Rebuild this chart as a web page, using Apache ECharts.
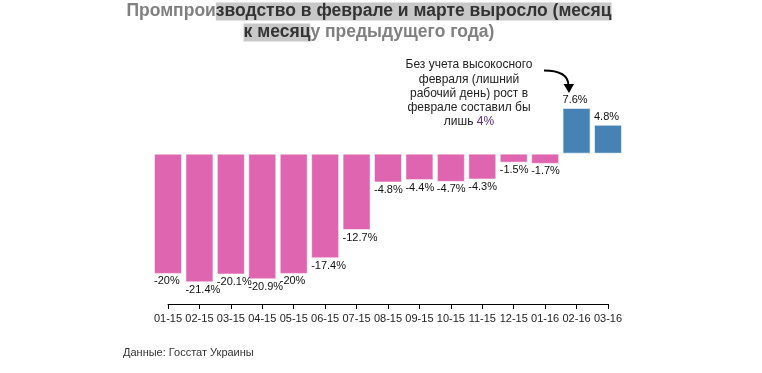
<!DOCTYPE html>
<html>
<head>
<meta charset="utf-8">
<script src="https://cdn.jsdelivr.net/npm/echarts@6/dist/echarts.min.js"></script>
<style>
html,body{margin:0;padding:0;background:#fff;}
#chart{width:762px;height:373px;}
</style>
</head>
<body>
<div id="chart"></div>
<script>
var categories = ['01-15','02-15','03-15','04-15','05-15','06-15','07-15','08-15','09-15','10-15','11-15','12-15','01-16','02-16','03-16'];
var values = [-20, -21.4, -20.1, -20.9, -20, -17.4, -12.7, -4.8, -4.4, -4.7, -4.3, -1.5, -1.7, 7.6, 4.8];
var titleLine1a = 'Промпрои';
var titleLine1b = 'зводство в феврале и марте выросло (месяц';
var titleLine2a = 'к месяц';
var titleLine2b = 'у предыдущего года)';
var noteText = 'Без учета высокосного\nфевраля (лишний\nрабочий день) рост в\nфеврале составил бы\nлишь {p|4%}';
var sourceText = 'Данные: Госстат Украины';

var FONT = '"Liberation Sans", Arial, sans-serif';
var TF = 'bold 17.5px ' + FONT;
var chart = echarts.init(document.getElementById('chart'), null, {renderer: 'canvas'});

chart.setOption({
  backgroundColor: '#fff',
  animation: false,
  grid: {left: 168, right: 154, top: 93.5, bottom: 69},
  xAxis: {
    type: 'category',
    data: categories,
    boundaryGap: false,
    axisLine: {onZero: false, lineStyle: {color: '#000', width: 1}},
    axisTick: {length: 5, lineStyle: {color: '#000'}},
    axisLabel: {fontSize: 11, color: '#222', fontFamily: FONT, margin: 9, interval: 0}
  },
  yAxis: {
    type: 'value', min: -25, max: 10, show: false,
    splitLine: {show: false}
  },
  series: [{
    type: 'bar',
    data: values,
    barWidth: 28,
    clip: false,
    itemStyle: {
      color: function (p) { return p.value >= 0 ? '#4682b4' : '#df65b0'; },
      borderColor: 'rgba(255,255,255,0.55)',
      borderWidth: 1
    },
    label: {
      show: true,
      position: 'outside',
      distance: 2,
      align: 'left',
      offset: [-14, 0],
      formatter: '{c}%',
      fontSize: 11,
      color: '#111',
      fontFamily: FONT
    }
  }],
  graphic: [
    {
      type: 'text', x: 369, y: 1,
      style: {
        text: '{g|' + titleLine1a + '}{h|' + titleLine1b + '}\n{h|' + titleLine2a + '}{g|' + titleLine2b + '}',
        align: 'center', verticalAlign: 'top',
        font: TF,
        rich: {
          g: {fill: '#808080', font: TF, lineHeight: 21},
          h: {fill: '#333', font: TF, lineHeight: 21, backgroundColor: '#c8c8c8'}
        }
      }
    },
    {
      type: 'text', x: 469, y: 58,
      style: {
        text: noteText,
        align: 'center', verticalAlign: 'top',
        font: '12px ' + FONT,
        fill: '#222',
        lineHeight: 14.2,
        rich: {p: {fill: '#5b2c7f', font: '12px ' + FONT, lineHeight: 14.2}}
      }
    },
    {
      type: 'bezierCurve',
      shape: {x1: 544, y1: 70.5, cpx1: 558, cpy1: 70.5, cpx2: 568, cpy2: 74, x2: 568.5, y2: 85},
      style: {stroke: '#000', lineWidth: 2, fill: null}
    },
    {
      type: 'polygon',
      shape: {points: [[563.5, 84], [574, 84], [569, 93]]},
      style: {fill: '#000'}
    },
    {
      type: 'text', x: 123, y: 353,
      style: {
        text: sourceText, align: 'left', verticalAlign: 'middle',
        font: '11px ' + FONT, fill: '#333'
      }
    }
  ]
});
</script>
</body>
</html>
